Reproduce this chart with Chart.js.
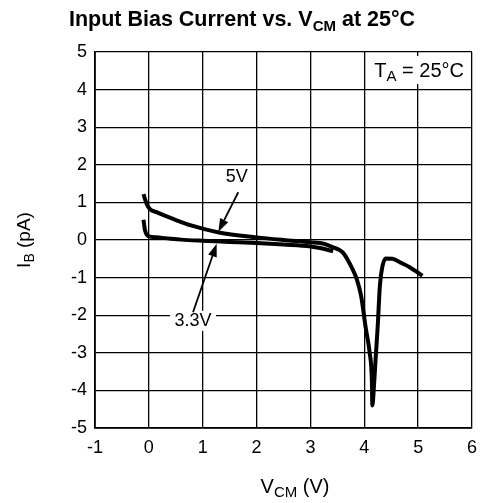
<!DOCTYPE html>
<html>
<head>
<meta charset="utf-8">
<script src="https://cdn.jsdelivr.net/npm/chart.js@4"></script>
<style>
  html, body { margin: 0; padding: 0; background: #fff; }
  #wrap { width: 489px; height: 503px; }
</style>
</head>
<body>
<div id="wrap"><canvas id="ibChart"></canvas></div>
<script>
// ── DATA ──────────────────────────────────────────────────────
const vcmTicks = [-1, 0, 1, 2, 3, 4, 5, 6];
const ibTicks  = [-5, -4, -3, -2, -1, 0, 1, 2, 3, 4, 5];

// 5V supply curve (VCM in V, IB in pA)
const vcm5 = [-0.1, -0.04, 0.02, 0.14, 0.45, 0.8, 1.3, 2.0, 2.5, 3.0, 3.25, 3.41, 3.6, 3.78, 3.86, 3.94, 4.03, 4.1, 4.14, 4.15,
              4.18, 4.21, 4.25, 4.29, 4.34, 4.4, 4.52, 4.7, 4.85, 5.08];
const ib5  = [1.22, 0.96, 0.82, 0.74, 0.56, 0.38, 0.2, 0.07, 0.0, -0.06, -0.1, -0.19, -0.33, -0.77, -1.04, -1.48, -2.37, -3.0, -3.7, -4.4,
              -3.88, -3.17, -2.28, -1.21, -0.68, -0.49, -0.5, -0.62, -0.73, -0.95];

// 3.3V supply curve
const vcm33 = [-0.1, -0.07, 0.0, 0.14, 0.3, 0.6, 1.0, 1.5, 2.0, 2.5, 3.0, 3.2, 3.42];
const ib33  = [0.54, 0.25, 0.1, 0.07, 0.05, 0.01, -0.02, -0.05, -0.08, -0.12, -0.17, -0.22, -0.3];

const FONT = '"Liberation Sans", Arial, Helvetica, sans-serif';

function toPoints(xs, ys) {
    return xs.map(function (x, i) { return { x: x, y: ys[i] }; });
}

// Draw text made of runs, some of them subscripts
function drawRich(ctx, runs, x, y, align) {
    let total = 0;
    runs.forEach(function (r) {
        ctx.font = (r.bold ? 'bold ' : '') + r.size + 'px ' + FONT;
        r.w = ctx.measureText(r.t).width;
        total += r.w;
    });
    let cx = align === 'center' ? x - total / 2 : (align === 'right' ? x - total : x);
    runs.forEach(function (r) {
        ctx.font = (r.bold ? 'bold ' : '') + r.size + 'px ' + FONT;
        ctx.textAlign = 'left';
        ctx.textBaseline = 'alphabetic';
        ctx.fillText(r.t, cx, y + (r.dy || 0));
        cx += r.w;
    });
    return total;
}

function drawArrow(ctx, x1, y1, x2, y2) {
    const ang = Math.atan2(y2 - y1, x2 - x1);
    const len = 13, half = 4.5;
    const bx = x2 - len * Math.cos(ang), by = y2 - len * Math.sin(ang);
    ctx.lineWidth = 1.8;
    ctx.beginPath();
    ctx.moveTo(x1, y1);
    ctx.lineTo(bx, by);
    ctx.stroke();
    ctx.beginPath();
    ctx.moveTo(x2, y2);
    ctx.lineTo(bx + half * Math.sin(ang), by - half * Math.cos(ang));
    ctx.lineTo(bx - half * Math.sin(ang), by + half * Math.cos(ang));
    ctx.closePath();
    ctx.fill();
}

// Titles, labels and arrows
const decorPlugin = {
    id: 'decor',
    afterDraw: function (chart) {
        const ctx = chart.ctx;
        const xs = chart.scales.x, ys = chart.scales.y;
        ctx.save();
        ctx.fillStyle = '#000';
        ctx.strokeStyle = '#000';

        // chart title
        drawRich(ctx, [
            { t: 'Input Bias Current vs. V', size: 21.5, bold: true },
            { t: 'CM', size: 15, bold: true, dy: 5 },
            { t: ' at 25°C', size: 21.5, bold: true },
        ], 242, 26, 'center');

        // axis titles
        drawRich(ctx, [
            { t: 'V', size: 20 },
            { t: 'CM', size: 15, dy: 4 },
            { t: ' (V)', size: 20 },
        ], 295, 493, 'center');

        ctx.save();
        ctx.translate(30, 240);
        ctx.rotate(-Math.PI / 2);
        drawRich(ctx, [
            { t: 'I', size: 19 },
            { t: 'B', size: 14, dy: 4 },
            { t: ' (pA)', size: 19 },
        ], 0, 0, 'center');
        ctx.restore();

        // T_A box
        ctx.fillStyle = '#fff';
        ctx.fillRect(368, 56, 102, 28);
        ctx.fillStyle = '#000';
        drawRich(ctx, [
            { t: 'T', size: 20 },
            { t: 'A', size: 15, dy: 4 },
            { t: ' = 25°C', size: 20 },
        ], 464, 77, 'right');

        // 5V label + arrow
        ctx.font = '18px ' + FONT;
        ctx.textAlign = 'center';
        ctx.textBaseline = 'middle';
        ctx.fillText('5V', xs.getPixelForValue(1.63), ys.getPixelForValue(1.67));
        drawArrow(ctx, xs.getPixelForValue(1.66), ys.getPixelForValue(1.27),
                       xs.getPixelForValue(1.29), ys.getPixelForValue(0.22));

        // 3.3V label + arrow
        const lx = xs.getPixelForValue(0.82), ly = ys.getPixelForValue(-2.15);
        ctx.fillStyle = '#fff';
        ctx.fillRect(lx - 23, ly - 10, 46, 20);
        ctx.fillStyle = '#000';
        ctx.fillText('3.3V', lx, ly);
        drawArrow(ctx, xs.getPixelForValue(0.82), ys.getPixelForValue(-1.92),
                       xs.getPixelForValue(1.26), ys.getPixelForValue(-0.1));
        ctx.restore();
    },
};

const ctxEl = document.getElementById('ibChart');
new Chart(ctxEl.getContext('2d'), {
    type: 'scatter',
    data: {
        datasets: [
            {
                label: '5V',
                data: toPoints(vcm5, ib5),
                showLine: true,
                borderColor: '#000',
                borderWidth: 4,
                pointRadius: 0,
                cubicInterpolationMode: 'monotone',
            },
            {
                label: '3.3V',
                data: toPoints(vcm33, ib33),
                showLine: true,
                borderColor: '#000',
                borderWidth: 4,
                pointRadius: 0,
                cubicInterpolationMode: 'monotone',
            },
        ],
    },
    options: {
        responsive: true,
        maintainAspectRatio: false,
        animation: false,
        layout: { padding: { top: 52, right: 17, left: 0, bottom: 0 } },
        plugins: { legend: { display: false }, tooltip: { enabled: false } },
        scales: {
            x: {
                type: 'linear',
                min: vcmTicks[0],
                max: vcmTicks[vcmTicks.length - 1],
                afterBuildTicks: function (s) { s.ticks = vcmTicks.map(function (v) { return { value: v }; }); },
                afterFit: function (s) { s.height = 75; },
                ticks: { color: '#000', font: { size: 18, family: FONT }, padding: 9, maxRotation: 0 },
                grid: { color: '#000', lineWidth: 1.3, drawTicks: false },
                border: { color: '#000', width: 1.8 },
            },
            y: {
                type: 'linear',
                min: ibTicks[0],
                max: ibTicks[ibTicks.length - 1],
                afterBuildTicks: function (s) { s.ticks = ibTicks.map(function (v) { return { value: v }; }); },
                afterFit: function (s) { s.width = 95; },
                ticks: { color: '#000', font: { size: 18, family: FONT }, padding: 8 },
                grid: { color: '#000', lineWidth: 1.3, drawTicks: false },
                border: { color: '#000', width: 1.8 },
            },
        },
    },
    plugins: [decorPlugin],
});
</script>
</body>
</html>
